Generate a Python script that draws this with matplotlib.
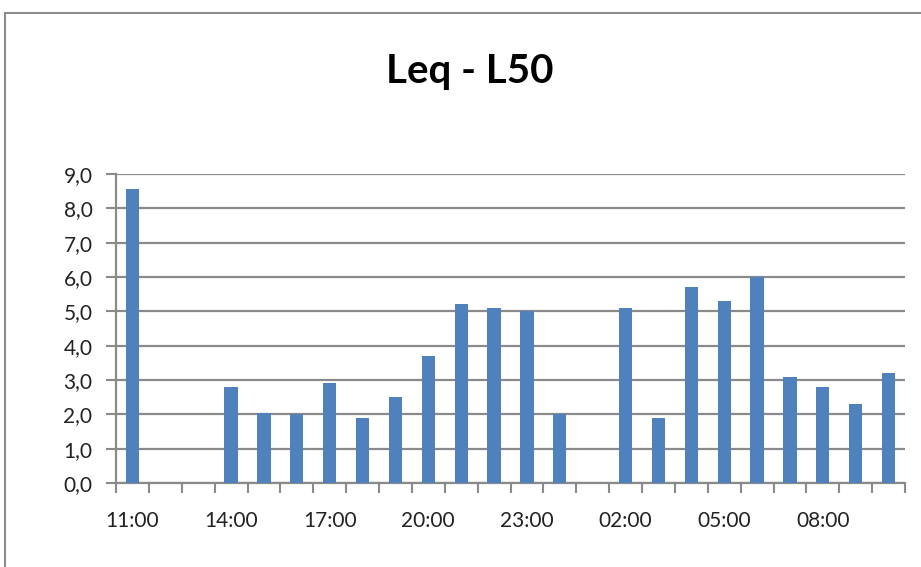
import numpy as np
import matplotlib.pyplot as plt
from matplotlib.patches import Rectangle

# godziny pomiarowe (11:00 -> 10:00 następnego dnia)
hours = ['11:00', '12:00', '13:00', '14:00', '15:00', '16:00', '17:00', '18:00',
         '19:00', '20:00', '21:00', '22:00', '23:00', '00:00', '01:00', '02:00',
         '03:00', '04:00', '05:00', '06:00', '07:00', '08:00', '09:00', '10:00']
# różnica Leq - L50 [dB], brak danych = nan
leq_l50 = [8.55, np.nan, np.nan, 2.8, 2.05, 2.0, 2.9, 1.9,
           2.5, 3.7, 5.2, 5.1, 5.0, 2.0, np.nan, 5.1,
           1.9, 5.7, 5.3, 6.0, 3.1, 2.8, 2.3, 3.2]
y_ticks = [0, 1, 2, 3, 4, 5, 6, 7, 8, 9]
label_every = 3

plt.rcParams['font.family'] = ['Lato', 'DejaVu Sans']

fig = plt.figure(figsize=(9.21, 5.67), dpi=100)
ax = fig.add_axes([116 / 921, 1 - 483 / 567, (905 - 116) / 921, (483 - 174) / 567])

# ramka wykresu
fig.patches.append(Rectangle((5 / 921, -0.1), 1.2, 1 - 13 / 567 + 0.1,
                             transform=fig.transFigure, fill=False,
                             edgecolor='#8c8c8c', linewidth=1.5))

x = np.arange(len(hours))
ax.bar(x, leq_l50, width=0.4, color='#4F81BD', zorder=3)

ax.set_xlim(-0.5, len(hours) - 0.5)
ax.set_ylim(0, 9)
ax.set_yticks(y_ticks)
ax.set_yticklabels([f'{v:.1f}'.replace('.', ',') for v in y_ticks], fontsize=15, color='#222222')
ax.yaxis.grid(True, color='#8a8a8a', linewidth=1.6, zorder=0)

# podziałki między kategoriami, etykiety co 3 godziny
ax.set_xticks(np.arange(-0.5, len(hours), 1))
ax.set_xticklabels([])
ax.set_xticks(x[::label_every], minor=True)
ax.set_xticklabels(hours[::label_every], minor=True, fontsize=15, color='#222222')
ax.tick_params(axis='x', which='major', length=7, width=1.5, color='#8a8a8a', direction='out')
ax.tick_params(axis='x', which='minor', length=0, pad=20)
ax.tick_params(axis='y', length=7, width=1.5, color='#8a8a8a', pad=10)

for s in ['top', 'right']:
    ax.spines[s].set_visible(False)
for s in ['left', 'bottom']:
    ax.spines[s].set_color('#8a8a8a')
    ax.spines[s].set_linewidth(1.6)

fig.text(470 / 921, 1 - 72 / 567, 'Leq - L50', ha='center', va='center',
         fontsize=29, fontweight='bold')

fig.savefig('out.png', dpi=100)
